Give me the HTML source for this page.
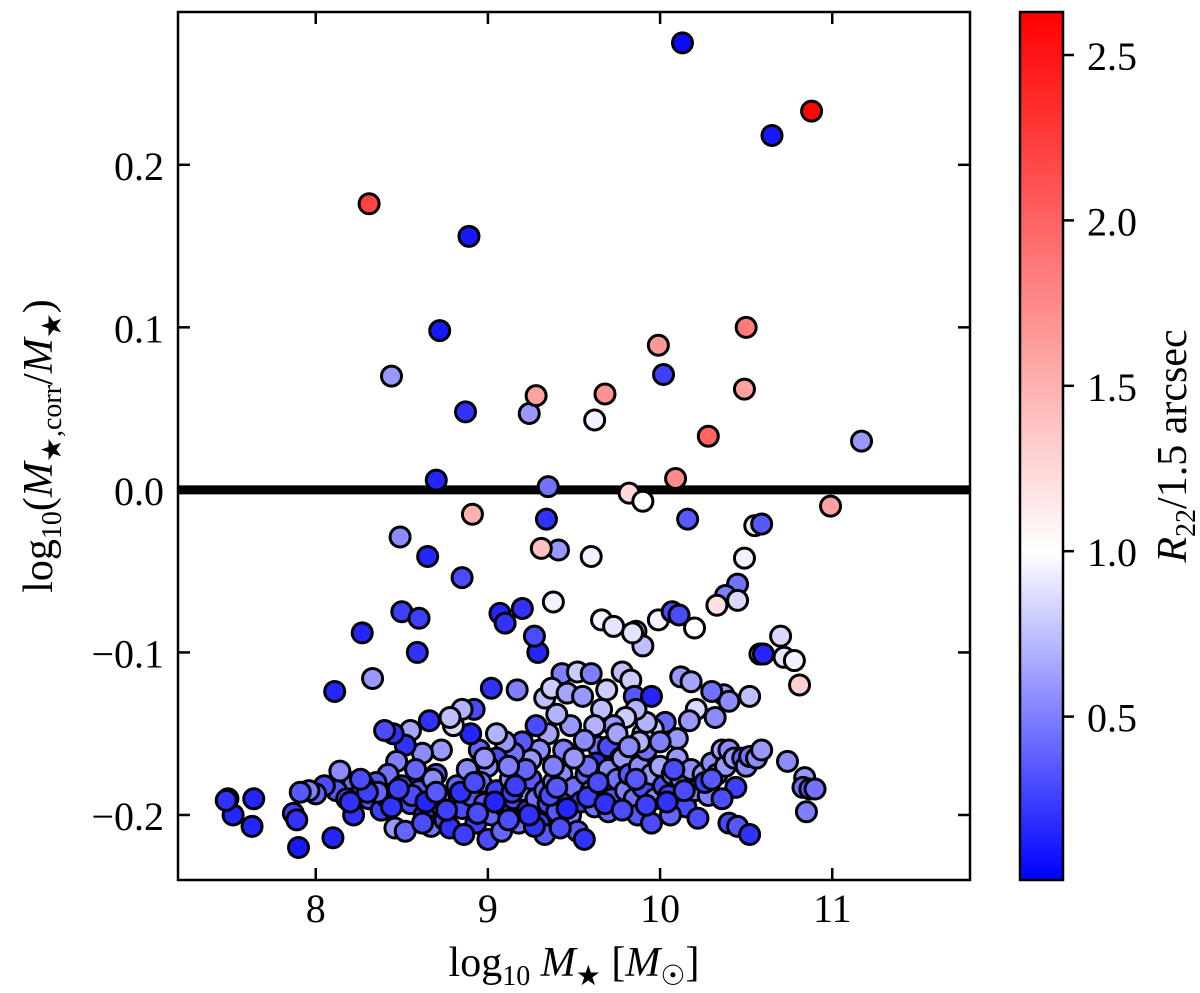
<!DOCTYPE html>
<html><head><meta charset="utf-8">
<style>
body{margin:0;background:#fff;}
svg{display:block;font-family:"Liberation Serif","DejaVu Serif",serif;}
</style></head>
<body>
<svg id="chart" width="1200" height="993" viewBox="0 0 1200 993" xmlns="http://www.w3.org/2000/svg">
<defs>
<linearGradient id="cbgrad" x1="0" y1="1" x2="0" y2="0">
<stop offset="0" stop-color="#0000ff"/>
<stop offset="0.378" stop-color="#ffffff"/>
<stop offset="1" stop-color="#ff0000"/>
</linearGradient>
</defs>
<g id="marks"></g>
<g id="axes"></g>
</svg>
<script>
const xTicks=[8,9,10,11];
const yTicks=[-0.2,-0.1,0.0,0.1,0.2];
const yTickLabels=["\u22120.2","\u22120.1","0.0","0.1","0.2"];
const cTicks=[0.5,1.0,1.5,2.0,2.5];
const cTickLabels=["0.5","1.0","1.5","2.0","2.5"];
const xs=[10.13,10.88,10.65,8.31,8.89,8.72,8.44,8.87,9.24,9.28,9.68,9.99,10.02,9.62,10.28,10.50,10.49,11.17,8.70,9.35,10.09,9.82,9.90,8.91,10.99,8.49,9.34,10.16,10.55,10.59,9.41,9.31,10.49,9.60,8.65,8.85,10.45,10.38,10.45,10.33,9.38,9.20,9.07,8.50,8.60,8.27,9.66,9.73,9.86,9.90,9.84,9.99,10.07,10.11,10.20,10.58,10.60,10.70,10.72,10.78,10.81,10.52,8.59,9.29,9.27,9.10,8.33,8.11,9.02,9.17,9.43,9.33,9.37,9.52,9.46,9.55,9.60,9.69,9.78,9.83,9.85,9.95,10.12,10.18,10.37,10.40,10.30,10.32,10.21,10.17,10.10,10.03,9.96,9.90,9.92,9.86,9.80,9.73,9.66,9.64,9.70,9.77,9.62,9.56,9.48,9.44,9.40,9.35,9.30,9.28,9.25,9.20,9.15,9.10,9.05,9.05,9.00,8.95,8.92,8.90,8.85,8.80,8.78,8.73,8.66,8.62,8.55,8.52,8.45,8.40,8.47,8.42,8.35,8.28,8.22,8.14,8.12,8.05,8.00,7.96,7.91,7.87,7.89,7.90,7.64,7.63,7.49,7.52,7.48,8.10,8.22,8.25,8.31,8.38,8.42,8.46,8.52,8.55,8.60,8.63,8.67,8.70,8.72,8.75,8.78,8.82,8.85,8.88,8.90,8.93,8.96,8.98,9.00,9.02,9.05,9.08,9.10,9.13,9.15,9.18,9.20,9.23,9.25,9.28,9.30,9.33,9.35,9.33,9.38,9.40,9.43,9.45,9.48,9.50,9.52,9.54,9.56,9.57,9.60,9.62,9.63,9.65,9.68,9.70,9.72,9.75,9.78,9.80,9.82,9.85,9.88,9.90,9.92,9.95,9.97,10.00,10.02,10.05,10.07,10.10,10.12,10.15,10.18,10.20,10.22,10.25,10.28,10.30,10.33,10.36,10.38,10.40,10.43,10.44,10.40,10.45,10.48,10.50,10.52,10.56,10.59,10.52,10.74,10.84,10.83,10.87,10.85,10.90,10.00,9.88,9.75,9.82,9.58,9.50,9.38,9.22,9.12,8.98,8.68,8.58,8.50,8.36,8.18,9.70,9.87,10.06,9.95,9.42,9.27,9.12,8.86,8.62,8.20,8.30,8.44,8.56,8.64,8.76,8.84,8.94,9.04,9.14,9.24,9.36,9.46,9.58,9.68,9.78,9.92,10.04,10.14,10.26,10.36,8.26,8.48,8.70,8.92,9.16,9.40,9.64,9.86,10.08,10.30];
const ys=[0.275,0.233,0.218,0.176,0.156,0.098,0.070,0.048,0.047,0.058,0.059,0.089,0.071,0.043,0.033,0.100,0.062,0.030,0.006,0.002,0.007,-0.002,-0.007,-0.015,-0.010,-0.029,-0.018,-0.018,-0.022,-0.021,-0.037,-0.036,-0.042,-0.041,-0.041,-0.054,-0.058,-0.065,-0.068,-0.071,-0.069,-0.073,-0.076,-0.075,-0.079,-0.088,-0.080,-0.084,-0.087,-0.096,-0.088,-0.080,-0.075,-0.077,-0.085,-0.101,-0.101,-0.090,-0.103,-0.105,-0.120,-0.127,-0.100,-0.100,-0.090,-0.082,-0.116,-0.124,-0.122,-0.123,-0.113,-0.128,-0.122,-0.112,-0.125,-0.127,-0.113,-0.123,-0.112,-0.117,-0.127,-0.127,-0.115,-0.118,-0.126,-0.130,-0.124,-0.140,-0.135,-0.142,-0.153,-0.143,-0.147,-0.150,-0.143,-0.135,-0.140,-0.145,-0.135,-0.158,-0.158,-0.165,-0.145,-0.154,-0.145,-0.160,-0.138,-0.150,-0.160,-0.145,-0.166,-0.155,-0.162,-0.155,-0.150,-0.165,-0.170,-0.160,-0.135,-0.150,-0.135,-0.145,-0.140,-0.160,-0.142,-0.162,-0.148,-0.157,-0.150,-0.148,-0.167,-0.175,-0.180,-0.182,-0.180,-0.173,-0.185,-0.182,-0.187,-0.185,-0.186,-0.199,-0.203,-0.220,-0.190,-0.207,-0.190,-0.200,-0.191,-0.214,-0.200,-0.188,-0.190,-0.197,-0.190,-0.208,-0.210,-0.193,-0.185,-0.200,-0.207,-0.175,-0.190,-0.203,-0.208,-0.182,-0.196,-0.172,-0.188,-0.205,-0.180,-0.193,-0.215,-0.200,-0.185,-0.210,-0.195,-0.178,-0.190,-0.205,-0.185,-0.197,-0.178,-0.190,-0.205,-0.185,-0.193,-0.212,-0.180,-0.198,-0.175,-0.190,-0.200,-0.183,-0.210,-0.192,-0.215,-0.175,-0.185,-0.195,-0.168,-0.178,-0.185,-0.172,-0.190,-0.178,-0.165,-0.185,-0.175,-0.190,-0.170,-0.183,-0.160,-0.175,-0.190,-0.170,-0.182,-0.188,-0.175,-0.165,-0.178,-0.195,-0.172,-0.185,-0.202,-0.175,-0.188,-0.168,-0.175,-0.160,-0.170,-0.160,-0.165,-0.183,-0.205,-0.207,-0.165,-0.170,-0.164,-0.165,-0.160,-0.212,-0.167,-0.177,-0.183,-0.184,-0.198,-0.184,-0.155,-0.155,-0.150,-0.158,-0.170,-0.165,-0.170,-0.172,-0.170,-0.165,-0.178,-0.172,-0.182,-0.186,-0.190,-0.198,-0.200,-0.200,-0.205,-0.208,-0.207,-0.203,-0.212,-0.205,-0.192,-0.186,-0.195,-0.188,-0.192,-0.197,-0.186,-0.199,-0.192,-0.186,-0.200,-0.188,-0.196,-0.189,-0.193,-0.197,-0.194,-0.192,-0.185,-0.180,-0.190,-0.178,-0.184,-0.186,-0.180,-0.182,-0.183,-0.180,-0.178,-0.172,-0.178];
const cs=[0.05,2.6,0.1,2.2,0.1,0.1,0.6,0.2,0.6,1.6,1.7,1.65,0.25,0.95,2.0,1.85,1.6,0.6,0.15,0.45,1.75,1.25,1.0,1.5,1.6,0.55,0.2,0.35,1.15,0.35,0.6,1.4,0.95,0.95,0.15,0.3,0.45,0.5,0.85,1.2,0.95,0.2,0.15,0.25,0.25,0.15,0.95,0.9,0.8,0.75,0.9,0.95,0.3,0.3,1.0,1.3,0.15,0.85,0.9,0.95,1.3,0.75,0.2,0.15,0.3,0.2,0.6,0.15,0.2,0.5,0.5,0.75,0.8,0.8,0.65,0.6,0.5,0.8,0.75,0.8,0.35,0.15,0.6,0.65,0.6,0.55,0.45,0.55,0.85,0.6,0.6,0.4,0.8,0.75,0.7,0.7,0.8,0.6,0.75,0.45,0.3,0.5,0.7,0.55,0.6,0.5,0.7,0.65,0.55,0.3,0.6,0.35,0.45,0.6,0.7,0.3,0.55,0.4,0.3,0.15,0.7,0.85,0.75,0.6,0.2,0.55,0.65,0.2,0.2,0.3,0.5,0.45,0.35,0.5,0.45,0.55,0.35,0.3,0.4,0.5,0.35,0.25,0.2,0.1,0.15,0.15,0.1,0.15,0.2,0.15,0.2,0.3,0.35,0.25,0.2,0.6,0.4,0.3,0.35,0.2,0.45,0.35,0.45,0.3,0.2,0.4,0.3,0.55,0.35,0.25,0.45,0.35,0.3,0.4,0.25,0.4,0.2,0.55,0.3,0.45,0.55,0.2,0.35,0.45,0.25,0.4,0.3,0.35,0.5,0.35,0.55,0.3,0.5,0.45,0.35,0.25,0.2,0.4,0.55,0.45,0.2,0.5,0.6,0.55,0.35,0.45,0.6,0.5,0.35,0.45,0.55,0.3,0.45,0.6,0.55,0.65,0.3,0.25,0.55,0.6,0.45,0.3,0.55,0.5,0.3,0.6,0.5,0.55,0.5,0.65,0.6,0.55,0.6,0.25,0.3,0.35,0.4,0.55,0.45,0.55,0.6,0.2,0.55,0.6,0.45,0.4,0.5,0.45,0.5,0.7,0.65,0.55,0.45,0.6,0.5,0.4,0.5,0.6,0.55,0.4,0.3,0.4,0.3,0.4,0.35,0.4,0.3,0.3,0.2,0.3,0.25,0.3,0.2,0.25,0.2,0.3,0.15,0.25,0.2,0.3,0.15,0.25,0.2,0.3,0.15,0.25,0.2,0.3,0.25,0.2,0.3,0.25,0.3,0.3,0.25,0.35,0.3,0.25,0.35,0.3,0.35,0.3,0.35];

const X0=178,X1=970,Y0=12,Y1=880;
const xMin=7.2,xMax=11.8,yMin=-0.24,yMax=0.294;
const cMin=0.006,cMid=1.0,cMax=2.63;
function sx(v){return X0+(v-xMin)/(xMax-xMin)*(X1-X0);}
function sy(v){return Y1-(v-yMin)/(yMax-yMin)*(Y1-Y0);}
const CB0=1020,CB1=1063;
function sc(v){return Y1-(v-cMin)/(cMax-cMin)*(Y1-Y0);}
function color(c){
  let r,g,b;
  if(c<=cMid){const t=Math.max(0,(c-cMin)/(cMid-cMin));r=g=Math.round(255*t);b=255;}
  else{const t=Math.min(1,(c-cMid)/(cMax-cMid));r=255;g=b=Math.round(255*(1-t));}
  return `rgb(${r},${g},${b})`;
}
const NS="http://www.w3.org/2000/svg";
function mk(tag,attrs,parent){const e=document.createElementNS(NS,tag);for(const k in attrs)e.setAttribute(k,attrs[k]);parent.appendChild(e);return e;}
const marks=document.getElementById('marks');
const axes=document.getElementById('axes');

const zl=mk('line',{x1:X0,x2:X1,y1:sy(0),y2:sy(0),stroke:'#000','stroke-width':9},marks);



for(let i=0;i<xs.length;i++){
  const c=mk('circle',{cx:sx(xs[i]),cy:sy(ys[i]),r:10,fill:color(cs[i]),stroke:'#000','stroke-width':3},marks);
  
  
}

const fr=mk('rect',{x:X0,y:Y0,width:X1-X0,height:Y1-Y0,fill:'none',stroke:'#000','stroke-width':2.5},axes);



xTicks.forEach(v=>{
  const x=sx(v);
  mk('line',{x1:x,x2:x,y1:Y1,y2:Y1-12,stroke:'#000','stroke-width':2.5},axes);
  mk('line',{x1:x,x2:x,y1:Y0,y2:Y0+12,stroke:'#000','stroke-width':2.5},axes);
  const t=mk('text',{x:x,y:922,'font-size':40,'text-anchor':'middle'},axes);
  t.textContent=String(v);
  
  
});
yTicks.forEach((v,i)=>{
  const y=sy(v);
  mk('line',{x1:X0,x2:X0+12,y1:y,y2:y,stroke:'#000','stroke-width':2.5},axes);
  mk('line',{x1:X1,x2:X1-12,y1:y,y2:y,stroke:'#000','stroke-width':2.5},axes);
  const t=mk('text',{x:164,y:y+15,'font-size':40,'text-anchor':'end'},axes);
  t.textContent=yTickLabels[i];
  
  
});

const xt=mk('text',{x:574,y:976,'font-size':42,'text-anchor':'middle'},axes);
xt.innerHTML='log<tspan font-size="28" dy="9">10</tspan><tspan dy="-9" font-style="italic"> M</tspan><tspan font-size="28" dy="9">\u2605</tspan><tspan dy="-9"> [</tspan><tspan font-style="italic">M</tspan><tspan font-size="28" dy="9">\u2609</tspan><tspan dy="-9">]</tspan>';



const yt=mk('text',{x:0,y:0,'font-size':42,'text-anchor':'middle',transform:'translate(52,446) rotate(-90)'},axes);
yt.innerHTML='log<tspan font-size="28" dy="9">10</tspan><tspan dy="-9">(</tspan><tspan font-style="italic">M</tspan><tspan font-size="28" dy="9">\u2605,corr</tspan><tspan dy="-9">/</tspan><tspan font-style="italic">M</tspan><tspan font-size="28" dy="9">\u2605</tspan><tspan dy="-9">)</tspan>';



const cb=mk('rect',{x:CB0,y:Y0,width:CB1-CB0,height:Y1-Y0,fill:'url(#cbgrad)',stroke:'#000','stroke-width':2.5},axes);


cTicks.forEach((v,i)=>{
  const y=sc(v);
  mk('line',{x1:CB1,x2:CB1+11,y1:y,y2:y,stroke:'#000','stroke-width':2.5},axes);
  const t=mk('text',{x:1087,y:y+15,'font-size':40},axes);
  t.textContent=cTickLabels[i];
  
  
});
const ct=mk('text',{x:0,y:0,'font-size':42,'text-anchor':'middle',transform:'translate(1186,446) rotate(-90)'},axes);
ct.innerHTML='<tspan font-style="italic">R</tspan><tspan font-size="28" dy="9">22</tspan><tspan dy="-9">/1.5 arcsec</tspan>';


</script>
</body></html>
